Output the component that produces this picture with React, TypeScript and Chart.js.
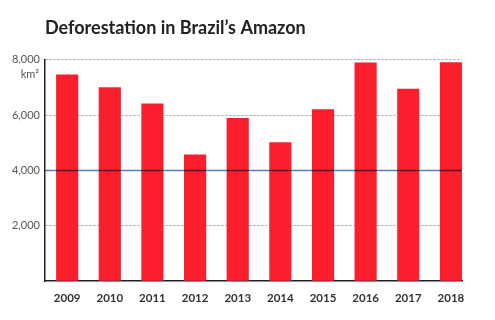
import React, { useEffect, useRef } from "react";
import { Chart, registerables } from "chart.js";

Chart.register(...registerables);

const categories = ["2009", "2010", "2011", "2012", "2013", "2014", "2015", "2016", "2017", "2018"];
const deforestation = [7464, 7000, 6418, 4571, 5891, 5012, 6207, 7893, 6947, 7900];
const yTicks = [2000, 4000, 6000, 8000];
const referenceLine = [4000];
const unitLabel = "km²";
const titleText = "Deforestation in Brazil’s Amazon";

const FONT = "Lato, 'Open Sans', sans-serif";

const overlayPlugin = {
  id: "overlay",
  afterDatasetsDraw(chart: any) {
    const { ctx, chartArea, scales } = chart;
    const y = scales.y;
    ctx.save();
    referenceLine.forEach((v) => {
      const py = Math.round(y.getPixelForValue(v)) + 0.5;
      ctx.globalCompositeOperation = "multiply";
      ctx.strokeStyle = "#5a80b8";
      ctx.lineWidth = 1.5;
      ctx.setLineDash([]);
      ctx.beginPath();
      ctx.moveTo(chartArea.left, py);
      ctx.lineTo(chartArea.right, py);
      ctx.stroke();
    });
    ctx.restore();
  },
  afterDraw(chart: any) {
    const { ctx, chartArea, scales } = chart;
    const y = scales.y;
    ctx.save();
    ctx.fillStyle = "#555";
    ctx.font = `11px ${FONT}`;
    ctx.textAlign = "right";
    ctx.textBaseline = "middle";
    ctx.fillText(unitLabel, chartArea.left - 6, y.getPixelForValue(yTicks[yTicks.length - 1]) + 15);
    ctx.restore();
  },
};

export default function App() {
  const ref = useRef<HTMLCanvasElement>(null);
  useEffect(() => {
    if (!ref.current) return;
    const chart = new Chart(ref.current, {
      type: "bar",
      data: {
        datasets: [
          {
            data: categories.map((c, i) => ({ x: Number(c), y: deforestation[i] })),
            backgroundColor: "#fb1f2e",
            borderWidth: 0,
            barPercentage: 0.52,
            categoryPercentage: 1,
          },
        ],
      },
      plugins: [overlayPlugin],
      options: {
        animation: false,
        responsive: false,
        maintainAspectRatio: false,
        layout: { padding: { top: 17, right: 33, left: 0, bottom: 5 } },
        plugins: {
          legend: { display: false },
          tooltip: { enabled: false },
          title: {
            display: true,
            text: titleText,
            align: "start",
            fullSize: false,
            color: "#222",
            font: { family: FONT, size: 18, weight: "bold" },
            padding: { top: 0, bottom: 21 },
          },
        },
        scales: {
          x: {
            type: "linear",
            offset: false,
            min: 2008.48,
            max: 2018.26,
            grid: { display: false, drawTicks: false },
            border: { display: true, color: "#222", width: 1.5 },
            afterBuildTicks: (axis: any) => {
              axis.ticks = categories.map((c) => ({ value: Number(c) }));
            },
            ticks: {
              color: "#333",
              font: { family: FONT, size: 11.5, weight: "bold" },
              padding: 10,
              maxRotation: 0,
              autoSkip: false,
              callback: (v: any) => String(v),
            },
          },
          y: {
            min: 0,
            max: 8000,
            afterFit: (axis: any) => {
              axis.width = 45;
            },
            afterBuildTicks: (axis: any) => {
              axis.ticks = [0, ...yTicks].map((v) => ({ value: v }));
            },
            grid: {
              drawTicks: false,
              color: (ctx: any) =>
                ctx.tick && (ctx.tick.value === 0 || referenceLine.includes(ctx.tick.value)) ? "rgba(0,0,0,0)" : "#9a9a9a",
              lineWidth: 1,
            },
            border: { display: true, color: "#222", width: 1.5, dash: [2, 2] },
            ticks: {
              color: "#555",
              font: { family: FONT, size: 11 },
              padding: 5,
              callback: (v: any) => (v === 0 ? "" : Number(v).toLocaleString("en-US")),
            },
          },
        },
      },
    } as any);
    return () => chart.destroy();
  }, []);
  return (
    <div style={{ position: "fixed", left: 0, top: 0, width: 495, height: 320, background: "#fff" }}>
      <canvas ref={ref} width={495} height={320} style={{ width: 495, height: 320 }} />
    </div>
  );
}
